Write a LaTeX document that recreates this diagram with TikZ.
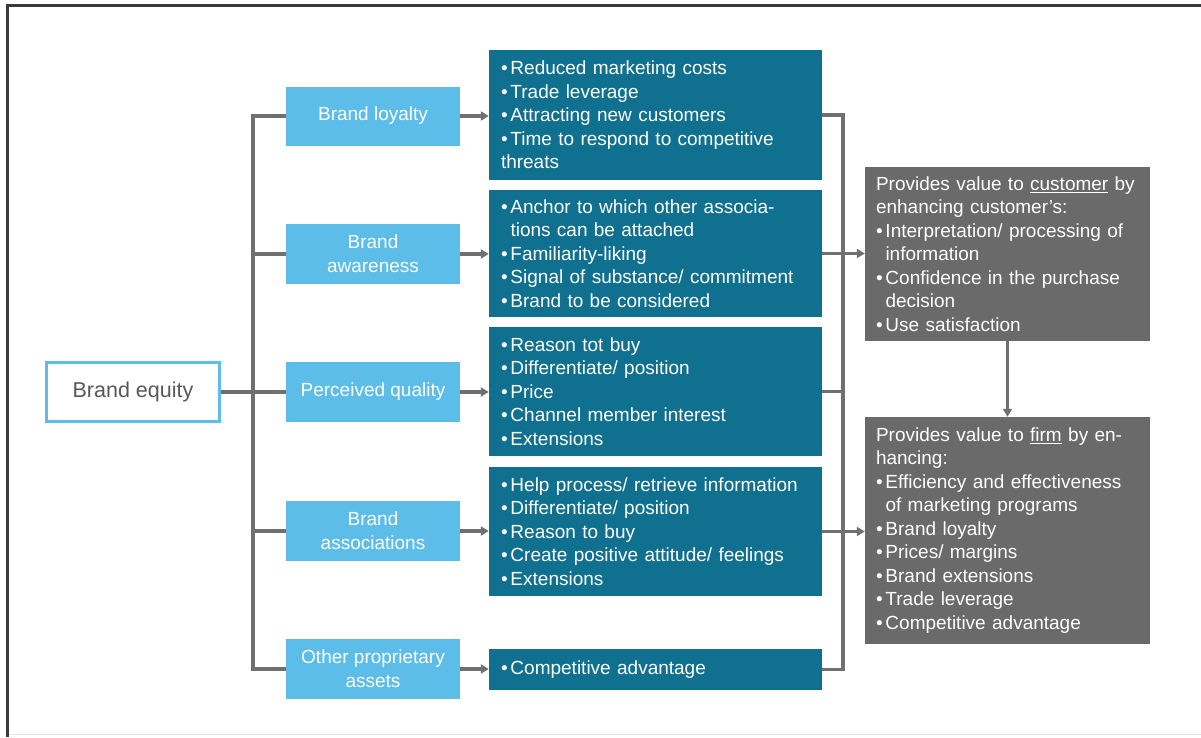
\documentclass[tikz,border=0pt]{standalone}
\usepackage{fontspec}
\setmainfont{Liberation Sans}
\usetikzlibrary{arrows.meta}
\definecolor{skyfill}{RGB}{91,189,232}
\definecolor{tealfill}{RGB}{16,112,143}
\definecolor{slatefill}{RGB}{106,106,106}
\definecolor{wirecol}{RGB}{112,112,112}
\definecolor{framecol}{RGB}{58,58,58}
\definecolor{equitytext}{RGB}{88,88,88}
\newcommand{\dotmark}{\makebox[0.5em][l]{\textbullet}}
\newcommand{\dotgap}{\hspace*{0.5em}}
\tikzset{
  equitybox/.style={draw=skyfill, line width=3pt, fill=white, text=equitytext,
    minimum width=173pt, minimum height=59pt, inner sep=0pt,
    font=\fontsize{21.5}{25}\selectfont},
  skybox/.style={fill=skyfill, text=white, minimum width=174pt, minimum height=59pt,
    inner sep=0pt, align=center, font=\fontsize{19}{24}\selectfont},
  tealbox/.style={fill=tealfill, text=white, text width=309pt, inner xsep=12pt,
    inner ysep=0pt, align=left, font=\fontsize{19}{23.5}\selectfont},
  slatebox/.style={fill=slatefill, text=white, text width=263pt, inner xsep=11pt,
    inner ysep=0pt, align=left, font=\fontsize{19}{23.5}\selectfont},
  wire/.style={draw=wirecol, line width=3.2pt},
  flow/.style={wire, -{Triangle[length=8pt,width=9pt]}}
}
\begin{document}
\begin{tikzpicture}[x=1pt,y=-1pt]
\useasboundingbox (0,0) rectangle (1201,737);

% Drawing the frame
\draw[framecol, line width=3pt] (1201,5) -- (7.5,5) -- (7.5,737);
\draw[black!10, line width=1pt] (9,734.5) -- (1201,734.5);

% Marking the root box
\node[equitybox] (equity) at (133,392) {Brand equity};

% Marking the sources
\node[skybox] (loyalty)   at (373,116) {Brand loyalty};
\node[skybox, minimum height=60pt] (awareness) at (373,254) {Brand\\awareness};
\node[skybox, minimum height=60pt] (quality)   at (373,392) {Perceived quality};
\node[skybox, minimum height=60pt] (assoc)     at (373,531) {Brand\\associations};
\node[skybox, minimum height=60pt] (other)     at (373,669) {Other proprietary\\assets};

% Marking the benefits
\node[tealbox, minimum height=130pt] (d1) at (655.5,115) {%
  \dotmark Reduced marketing costs\\
  \dotmark Trade leverage\\
  \dotmark Attracting new customers\\
  \dotmark Time to respond to competitive\\
  threats};
\node[tealbox, minimum height=127pt] (d2) at (655.5,253.5) {%
  \dotmark Anchor to which other associa-\\
  \dotgap tions can be attached\\
  \dotmark Familiarity-liking\\
  \dotmark Signal of substance/ commitment\\
  \dotmark Brand to be considered};
\node[tealbox, minimum height=129pt] (d3) at (655.5,391.5) {%
  \dotmark Reason tot buy\\
  \dotmark Differentiate/ position\\
  \dotmark Price\\
  \dotmark Channel member interest\\
  \dotmark Extensions};
\node[tealbox, minimum height=129pt] (d4) at (655.5,531.5) {%
  \dotmark Help process/ retrieve information\\
  \dotmark Differentiate/ position\\
  \dotmark Reason to buy\\
  \dotmark Create positive attitude/ feelings\\
  \dotmark Extensions};
\node[tealbox, minimum height=41pt] (d5) at (655.5,669.5) {%
  \dotmark Competitive advantage};

% Marking the values
\node[slatebox, minimum height=174pt] (g1) at (1007.5,254) {%
  Provides value to \underline{customer} by\\
  enhancing customer's:\\
  \dotmark Interpretation/ processing of\\
  \dotgap information\\
  \dotmark Confidence in the purchase\\
  \dotgap decision\\
  \dotmark Use satisfaction};
\node[slatebox, minimum height=227pt] (g2) at (1007.5,530.5) {%
  Provides value to \underline{firm} by en-\\
  hancing:\\
  \dotmark Efficiency and effectiveness\\
  \dotgap of marketing programs\\
  \dotmark Brand loyalty\\
  \dotmark Prices/ margins\\
  \dotmark Brand extensions\\
  \dotmark Trade leverage\\
  \dotmark Competitive advantage};

% Drawing the left spine
\coordinate (spineL) at (253,116);
\draw[wire] (loyalty.west) -| (spineL |- other.west) -- (other.west);
\draw[wire] (awareness.west) -- (awareness.west -| spineL);
\draw[wire] (assoc.west) -- (assoc.west -| spineL);
\draw[wire] (equity.east) -- (equity.east -| quality.west);

% Drawing the arrows to the benefits
\foreach \src/\dst in {loyalty/d1, awareness/d2, quality/d3, assoc/d4, other/d5}
  \draw[flow] (\src.east) -- (\src.east -| \dst.west);

% Drawing the right spine
\coordinate (spineR) at (843,116);
\draw[wire] (d1.east) -| (spineR |- d5.east) -- (d5.east);
\draw[wire] (d3.east) -- (d3.east -| spineR);
\draw[flow] (d2.east) -- (d2.east -| g1.west);
\draw[flow] (d4.east) -- (d4.east -| g2.west);
\draw[flow] (g1.south) -- (g2.north);
\end{tikzpicture}
\end{document}
